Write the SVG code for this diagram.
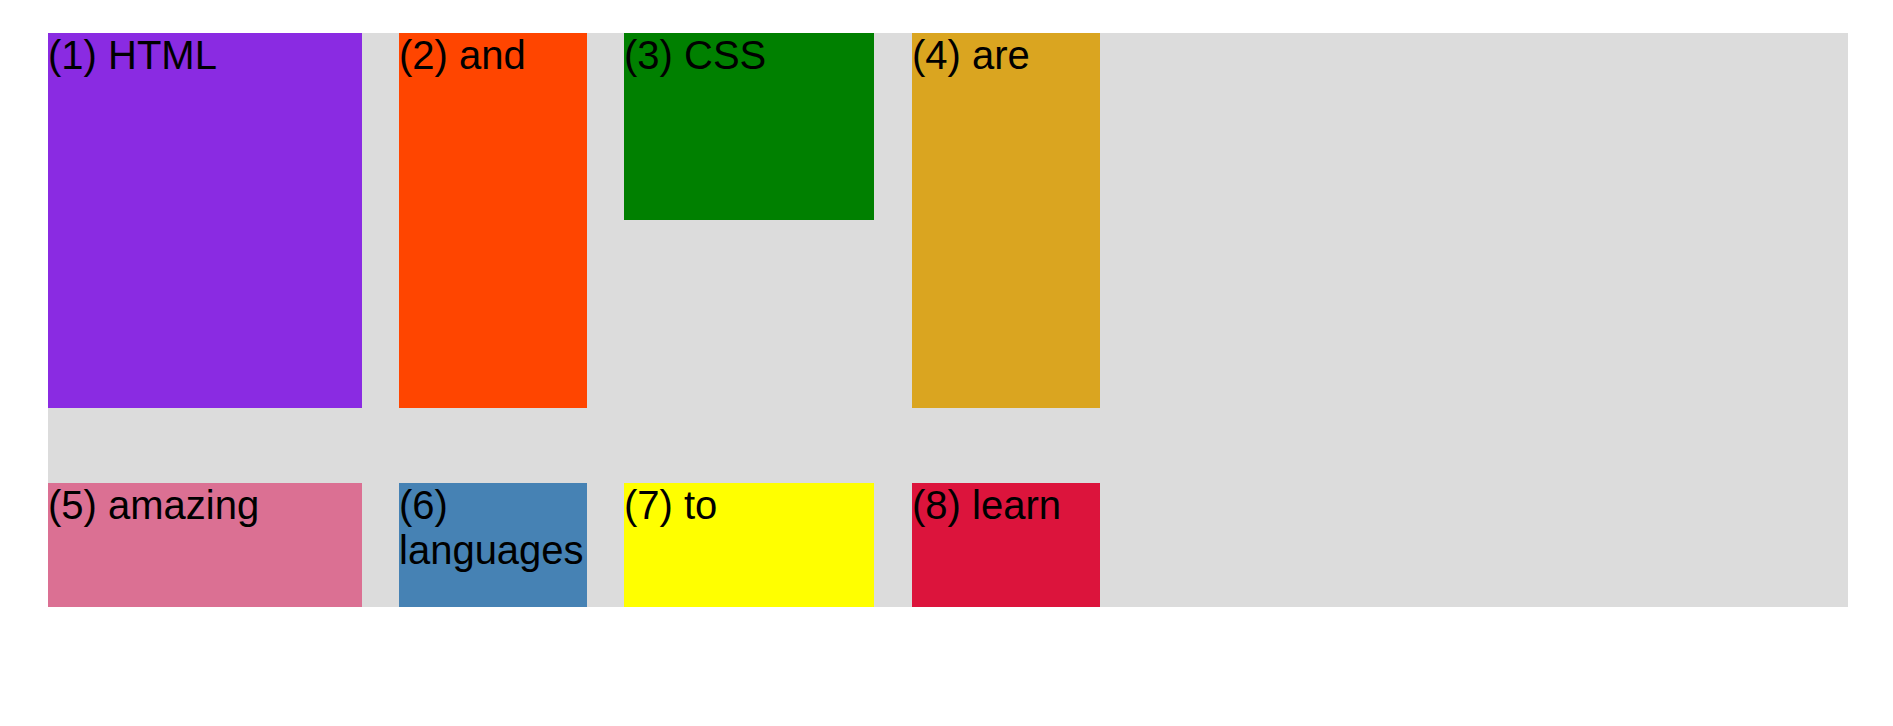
<svg xmlns="http://www.w3.org/2000/svg" width="1893" height="726" viewBox="0 0 1893 726">
<style>
text{font-family:"Liberation Sans",Arial,sans-serif;font-size:40px;fill:#000}
</style>
<rect width="1893" height="726" fill="#fff"/>
<g id="container"><rect x="48" y="33" width="1800" height="574" fill="#dcdcdc"/></g>
<g id="n1"><rect x="48" y="33" width="314" height="375" fill="#8a2be2"/><text x="48" y="69">(1) HTML</text></g>
<g id="n2"><rect x="399" y="33" width="188" height="375" fill="#ff4500"/><text x="399" y="69">(2) and</text></g>
<g id="n3"><rect x="624" y="33" width="250" height="187" fill="#008000"/><text x="624" y="69">(3) CSS</text></g>
<g id="n4"><rect x="912" y="33" width="188" height="375" fill="#daa520"/><text x="912" y="69">(4) are</text></g>
<g id="n5"><rect x="48" y="483" width="314" height="124" fill="#db7093"/><text x="48" y="519">(5) amazing</text></g>
<g id="n6"><rect x="399" y="483" width="188" height="124" fill="#4682b4"/><text x="399" y="519">(6)</text><text x="399" y="564">languages</text></g>
<g id="n7"><rect x="624" y="483" width="250" height="124" fill="#ffff00"/><text x="624" y="519">(7) to</text></g>
<g id="n8"><rect x="912" y="483" width="188" height="124" fill="#dc143c"/><text x="912" y="519">(8) learn</text></g>
<g id="connectors"/>
</svg>
